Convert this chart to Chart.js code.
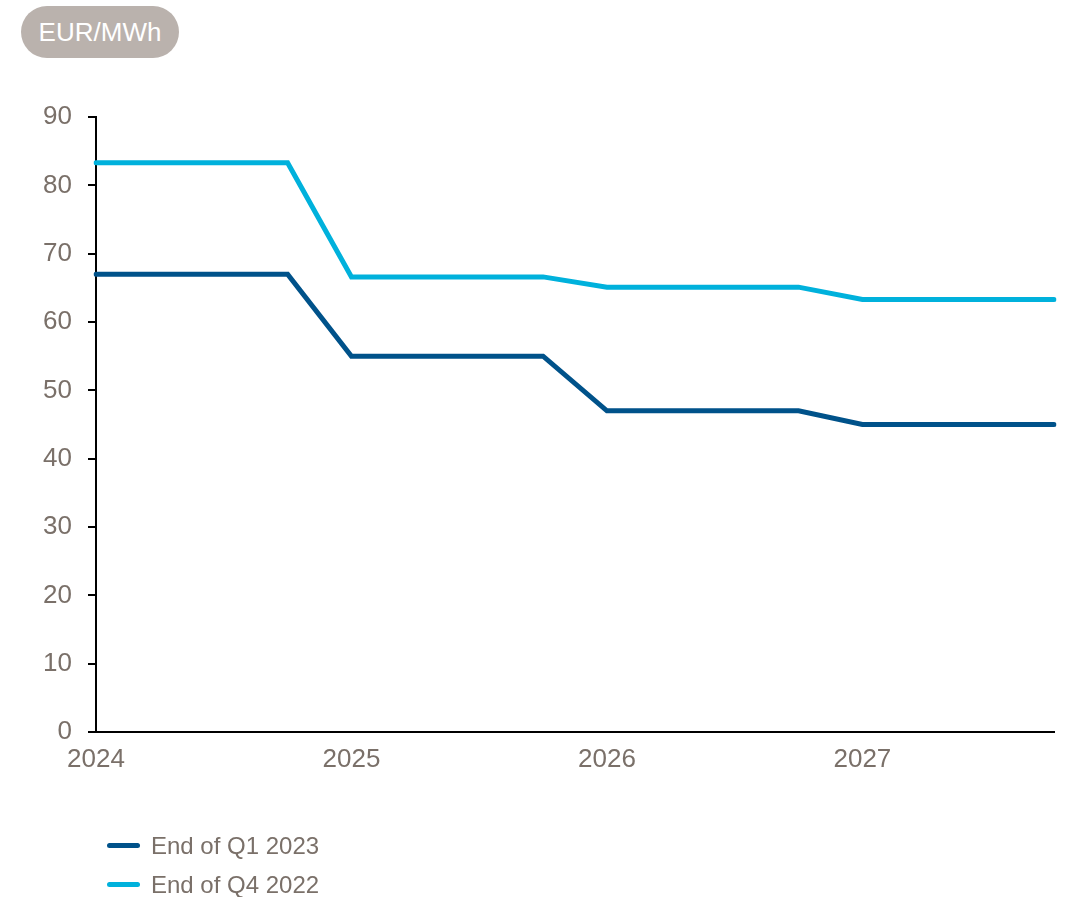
<!DOCTYPE html>
<html>
<head>
<meta charset="utf-8">
<script src="https://cdn.jsdelivr.net/npm/chart.js@4"></script>
<style>
  html, body { margin: 0; padding: 0; background: #ffffff; }
  body { width: 1069px; height: 897px; position: relative; overflow: hidden;
         font-family: "Liberation Sans", Arial, sans-serif; }
  #chart { position: absolute; left: 0; top: 0; }
  .unit { position: absolute; left: 21px; top: 6px; width: 158px; height: 52px;
          border-radius: 26px; background: #bab2ad; color: #ffffff;
          font-size: 26px; line-height: 52px; text-align: center; }
  .legend { position: absolute; left: 107px; top: 826px; }
  .legend .item { height: 39px; display: flex; align-items: center;
                  font-size: 24px; color: #7a7069; }
  .legend .swatch { width: 33px; height: 5px; border-radius: 3px; margin-right: 11px; }
</style>
</head>
<body>
<div class="unit">EUR/MWh</div>
<canvas id="chart" width="1069" height="897"></canvas>
<div class="legend" id="legend"></div>
<script>
// Quarterly periods, Q1 2024 through Q4 2027
const quarters = [
  'Q1 2024', 'Q2 2024', 'Q3 2024', 'Q4 2024',
  'Q1 2025', 'Q2 2025', 'Q3 2025', 'Q4 2025',
  'Q1 2026', 'Q2 2026', 'Q3 2026', 'Q4 2026',
  'Q1 2027', 'Q2 2027', 'Q3 2027', 'Q4 2027'
];

// Forward prices, EUR/MWh
const endQ1_2023 = [67, 67, 67, 67, 55, 55, 55, 55, 47, 47, 47, 47, 45, 45, 45, 45];
const endQ4_2022 = [83.3, 83.3, 83.3, 83.3, 66.6, 66.6, 66.6, 66.6, 65.1, 65.1, 65.1, 65.1, 63.3, 63.3, 63.3, 63.3];

const seriesNames = ['End of Q1 2023', 'End of Q4 2022'];
const seriesColors = ['#00528a', '#00b1dc'];

const textColor = '#7a7069';
const font = { family: '"Liberation Sans", Arial, sans-serif', size: 26 };

const ctx = document.getElementById('chart').getContext('2d');
new Chart(ctx, {
  type: 'line',
  data: {
    labels: quarters,
    datasets: [endQ1_2023, endQ4_2022].map((values, i) => ({
      label: seriesNames[i],
      data: values,
      borderColor: seriesColors[i],
      backgroundColor: seriesColors[i],
      borderWidth: 5,
      borderCapStyle: 'round',
      borderJoinStyle: 'miter',
      pointRadius: 0,
      pointHoverRadius: 0,
      tension: 0,
      fill: false
    }))
  },
  options: {
    responsive: false,
    animation: false,
    layout: { padding: { left: 0, right: 15, top: 117, bottom: 105 } },
    plugins: {
      legend: { display: false },
      tooltip: { enabled: false }
    },
    scales: {
      x: {
        type: 'category',
        offset: false,
        afterFit: (scale) => { scale.height = 60; },
        grid: { display: true, drawOnChartArea: false, drawTicks: false },
        border: { display: true, color: '#000000', width: 2 },
        ticks: {
          autoSkip: false,
          maxRotation: 0,
          padding: 12,
          color: textColor,
          font: font,
          callback: function (value) {
            const label = this.getLabelForValue(value);
            return label.startsWith('Q1') ? label.slice(3) : '';
          }
        }
      },
      y: {
        min: 0,
        max: 90,
        afterFit: (scale) => { scale.width = 96; },
        grid: { drawOnChartArea: false, drawTicks: true, tickLength: 8, color: '#000000', lineWidth: 2 },
        border: { display: true, color: '#000000', width: 2 },
        ticks: { stepSize: 10, padding: 16, color: textColor, font: font }
      }
    }
  }
});

// Legend, one series per row
const legend = document.getElementById('legend');
seriesNames.forEach((name, i) => {
  const item = document.createElement('div');
  item.className = 'item';
  const sw = document.createElement('span');
  sw.className = 'swatch';
  sw.style.background = seriesColors[i];
  const txt = document.createElement('span');
  txt.textContent = name;
  item.appendChild(sw);
  item.appendChild(txt);
  legend.appendChild(item);
});
</script>
</body>
</html>
